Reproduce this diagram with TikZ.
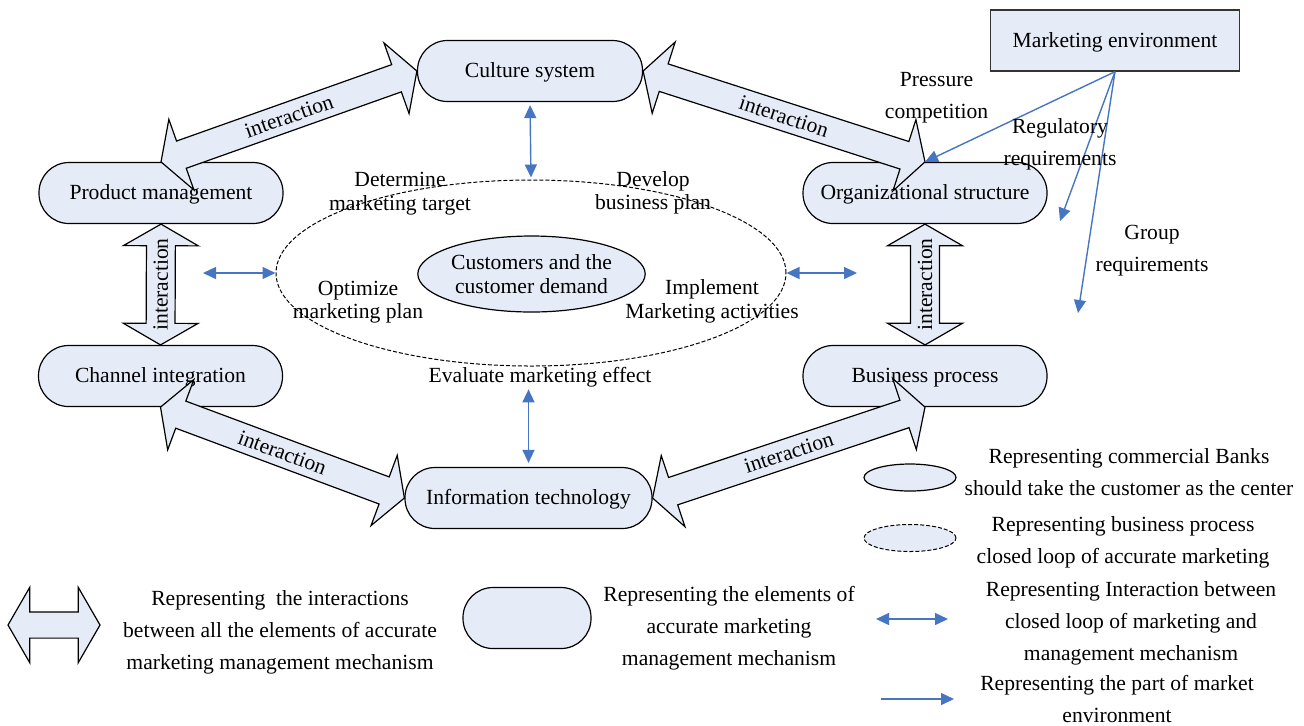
\documentclass[tikz,border=0pt]{standalone}
\usepackage{fontspec}
\setmainfont{Liberation Serif}
\usetikzlibrary{shapes.geometric,shapes.arrows,calc,arrows.meta}

\definecolor{elemfill}{RGB}{230,236,247}
\definecolor{envblue}{RGB}{70,118,194}

% block arrow between two anchors, label along the shaft
\newcommand{\linkblock}[3]{%
  \path let \p1=($(#2)-(#1)$), \n1={veclen(\x1,\y1)} in
    (#1) -- (#2) node[iarrow, midway, sloped, minimum height=\n1] {#3};}

\begin{document}
\begin{tikzpicture}[
  x=0.5pt, y=-0.5pt,
  font=\fontsize{10.8}{11.75}\selectfont,
  elem/.style={rectangle, rounded corners=15pt, draw=black, fill=elemfill, line width=0.6pt, minimum height=30.5pt, minimum width=122pt, inner sep=2pt, text height=0.9em, text depth=0.22em},
  envbox/.style={rectangle, draw=black!80, fill=elemfill, line width=0.7pt, minimum height=30.5pt, minimum width=124.5pt, text height=0.9em, text depth=0.22em},
  loopring/.style={ellipse, draw=black, dash pattern=on 2pt off 1pt, line width=0.5pt, minimum width=255pt, minimum height=93pt},
  core/.style={ellipse, draw=black, fill=elemfill, line width=0.6pt, minimum width=108.5pt, minimum height=38pt, inner sep=0pt, align=center},
  iarrow/.style={double arrow, draw=black, fill=elemfill, line width=0.6pt, double arrow tip angle=120, double arrow head extend=11.5pt, inner xsep=0pt, inner ysep=3.3pt},
  envarrow/.style={draw=envblue, line width=0.7pt, -{Triangle[length=6.5pt,width=6pt]}},
  linkarrow/.style={draw=envblue, line width=0.7pt, {Triangle[length=6.5pt,width=6pt]}-{Triangle[length=6.5pt,width=6pt]}},
  txt/.style={align=center, inner sep=0pt},
  wide/.style={align=center, inner sep=0pt, font=\fontsize{10.8}{16}\selectfont}
]
  \useasboundingbox (0,0) rectangle (1304,725);

  % elements of the mechanism
  \node[elem, minimum width=112.5pt] (culture) at (530,71) {Culture system};
  \node[elem] (product) at (161,193) {Product management};
  \node[elem] (org) at (925,193) {Organizational structure};
  \node[elem] (channel) at (160.5,376) {Channel integration};
  \node[elem] (business) at (925,376) {Business process};
  \node[elem, minimum width=123.5pt] (info) at (528.5,498) {Information technology};
  \node[envbox] (env) at (1115,40.5) {Marketing environment};

  % closed loop in the middle
  \node[loopring] (loop) at (531,273) {};
  \node[core] (customer) at (531.5,274) {Customers and the\\customer demand};
  \node[txt] (target) at (400,193.5) {Determine\\marketing target};
  \node[txt] (develop) at (653,193) {Develop\\business plan};
  \node[txt] (optimize) at (358,302) {Optimize\\marketing plan};
  \node[txt] (implement) at (712,301.5) {Implement\\Marketing activities};
  \node[txt] (evaltxt) at (540,377) {Evaluate marketing effect};

  % interactions between the elements
  \linkblock{culture.west}{product.north}{interaction}
  \linkblock{culture.east}{org.north}{interaction}
  \linkblock{channel.north}{product.south}{interaction}
  \linkblock{business.north}{org.south}{interaction}
  \linkblock{channel.south}{info.west}{interaction}
  \linkblock{info.east}{business.south}{interaction}

  % loop <-> mechanism
  \coordinate (lpoint) at (203,273);
  \coordinate (rpoint) at (857,273);
  \draw[linkarrow, shorten <=1.5pt, shorten >=1pt] (culture.south) -- (loop.north);
  \draw[linkarrow, shorten <=1pt, shorten >=2pt] (evaltxt.south -| info.north) -- (info.north);
  \draw[linkarrow] (lpoint) -- (loop.west);
  \draw[linkarrow] (loop.east) -- (rpoint);

  % market environment
  \coordinate (regend) at (1060,221);
  \coordinate (grpend) at (1078,313);
  \draw[envarrow] (env.south) -- (org.north);
  \draw[envarrow] (env.south) -- (regend);
  \draw[envarrow] (env.south) -- (grpend);
  \node[wide] (pressure) at (936.5,98) {Pressure\\competition};
  \node[wide] (regul) at (1060,144.5) {Regulatory\\requirements};
  \node[wide] (group) at (1152,251) {Group\\requirements};

  % legend
  \node[iarrow, minimum height=46pt, double arrow head extend=12.25pt, inner ysep=6.25pt] (legblock) at (54,625) {};
  \node[wide] (legblocktxt) at (280,632) {Representing\ \ the interactions\\between all the elements of accurate\\marketing management mechanism};
  \node[elem, minimum width=64pt] (legelem) at (527,618) {};
  \node[wide] (legelemtxt) at (729,628) {Representing the elements of\\accurate marketing\\management mechanism};
  \node[ellipse, draw=black, fill=elemfill, line width=0.6pt, minimum width=46pt, minimum height=13.5pt] (legcore) at (910,477.5) {};
  \node[wide] (legcoretxt) at (1129,472) {Representing commercial Banks\\should take the customer as the center};
  \node[ellipse, draw=black, fill=elemfill, dash pattern=on 2pt off 1pt, line width=0.5pt, minimum width=46pt, minimum height=13.5pt] (legloop) at (910,538) {};
  \node[wide] (leglooptxt) at (1123,542.5) {Representing business process\\closed loop of accurate marketing};
  \coordinate (lk1) at (876,619);
  \coordinate (lk2) at (948,619);
  \draw[linkarrow] (lk1) -- (lk2);
  \node[wide] (leglinktxt) at (1131,623) {Representing Interaction between\\closed loop of marketing and\\management mechanism};
  \coordinate (le1) at (881,699);
  \coordinate (le2) at (954,699);
  \draw[envarrow] (le1) -- (le2);
  \node[wide] (legenvtxt) at (1117,699) {Representing the part of market\\environment};
\end{tikzpicture}
\end{document}
